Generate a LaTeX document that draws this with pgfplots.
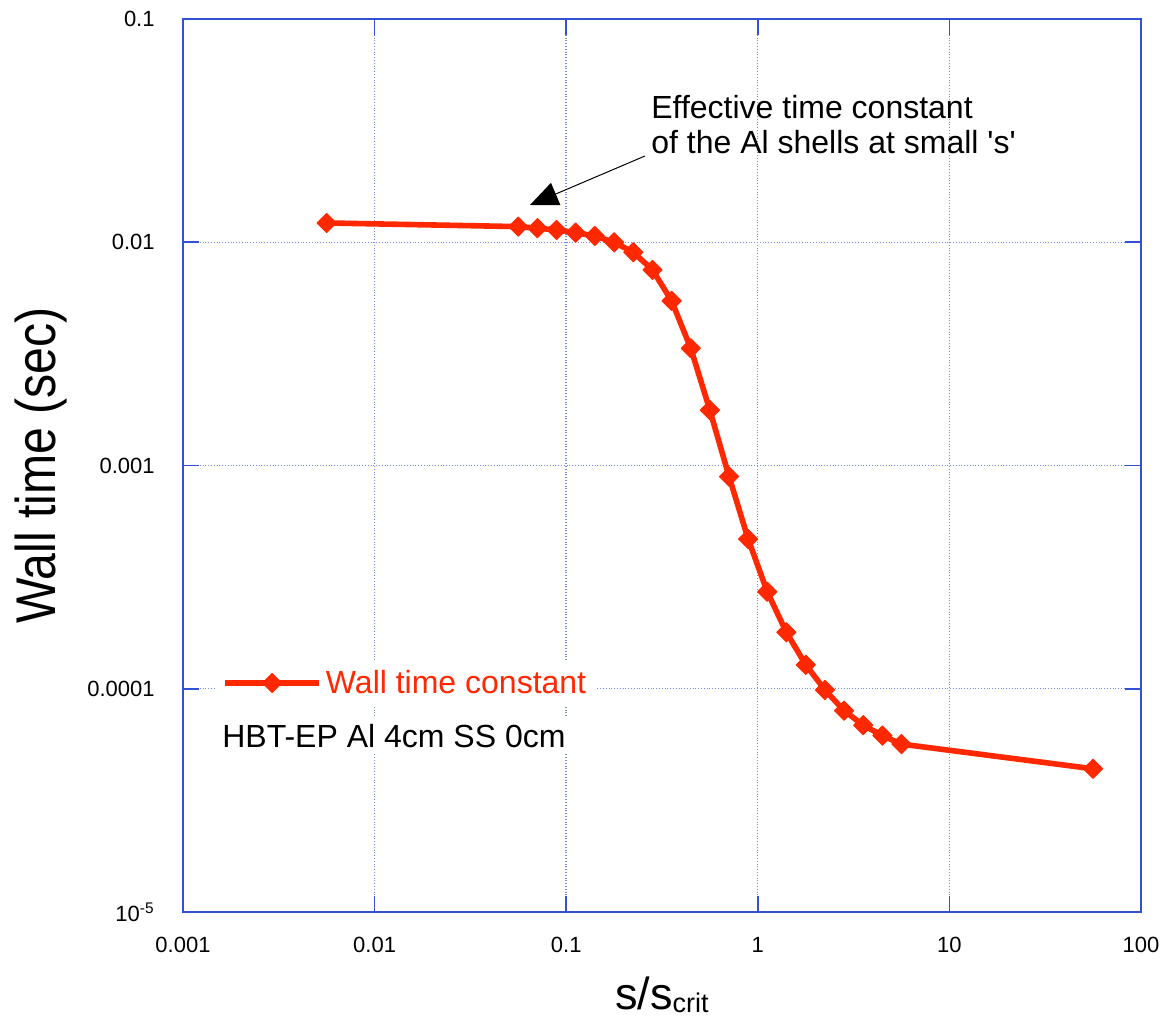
\documentclass[border=0pt]{standalone}
\usepackage{fontspec}
\setmainfont{Liberation Sans}
\usepackage{pgfplots}
\usepackage{pgfplotstable}
\pgfplotsset{compat=1.18}
\usetikzlibrary{arrows.meta}

\definecolor{wallred}{RGB}{255,40,0}
\definecolor{frameblue}{RGB}{50,80,210}
\definecolor{gridblue}{RGB}{115,135,230}

% square diamond (equal width and height)
\pgfdeclareplotmark{sqdiamond}{%
  \pgfpathmoveto{\pgfqpoint{0pt}{\pgfplotmarksize}}%
  \pgfpathlineto{\pgfqpoint{\pgfplotmarksize}{0pt}}%
  \pgfpathlineto{\pgfqpoint{0pt}{-\pgfplotmarksize}}%
  \pgfpathlineto{\pgfqpoint{-\pgfplotmarksize}{0pt}}%
  \pgfpathclose
  \pgfusepathqfillstroke}

% s/s_crit versus wall time constant (sec)
\pgfplotstableread{
s       tau
0.00562 0.0122
0.0562  0.01175
0.0708  0.01156
0.0891  0.01135
0.112   0.01104
0.141   0.01067
0.178   0.00999
0.224   0.00902
0.282   0.00752
0.355   0.00546
0.447   0.00335
0.562   0.00177
0.708   0.000892
0.891   0.000468
1.12    0.000272
1.41    0.000179
1.78    0.000128
2.24    0.0000988
2.82    0.0000798
3.55    0.0000687
4.47    0.0000617
5.62    0.0000565
56.2    0.0000438
}\walldata

\begin{document}
\begin{tikzpicture}
\path[use as bounding box] (0,0) rectangle (584.5pt,510.5pt);
\begin{axis}[
  at={(91.5pt,54.5pt)}, anchor=south west,
  scale only axis, width=479pt, height=446.5pt,
  xmode=log, ymode=log,
  xmin=0.001, xmax=100, ymin=1e-5, ymax=0.1,
  xtick={0.001,0.01,0.1,1,10,100},
  xticklabels={0.001,0.01,0.1,1,10,100},
  ytick={1e-5,1e-4,1e-3,1e-2,1e-1},
  yticklabels={10\textsuperscript{-5},0.0001,0.001,0.01,0.1},
  minor tick style={draw=none},
  tick align=inside,
  major tick length=8pt,
  tick style={frameblue, line width=0.8pt},
  axis line style={frameblue, line width=0.8pt},
  grid=major,
  major grid style={gridblue, densely dotted, line width=0.7pt},
  xticklabel style={font=\fontsize{11}{11}\selectfont, inner sep=0pt, anchor=north, yshift=-12.5pt},
  yticklabel style={font=\fontsize{11}{11}\selectfont, inner sep=0pt, anchor=east, xshift=-14pt},
  every axis x label/.style={at={(axis description cs:0.5,-0.1097)}, anchor=base},
  every axis y label/.style={at={(axis description cs:-0.1482,0.5)}, rotate=90, anchor=center},
  xlabel={\fontsize{22.5}{22.5}\selectfont s/s\raisebox{-1.5pt}{\fontsize{13.5}{13.5}\selectfont crit}},
  ylabel={\scalebox{0.86}[1]{\fontsize{28}{28}\selectfont Wall time (sec)}},
  legend style={at={(axis description cs:0.0344,0.2564)}, anchor=west,
    draw=none, fill=white, inner sep=3pt,
    font=\fontsize{16}{16}\selectfont, text=wallred,
    cells={anchor=west}},
  legend image code/.code={%
    \draw[#1, mark repeat=2, mark phase=2]
      plot coordinates {(0pt,0pt) (23.5pt,0pt) (47pt,0pt)};},
]
\addplot[wallred, line width=2.8pt, line join=round,
  mark=sqdiamond, mark size=4.8pt,
  mark options={solid, fill=wallred, line width=0.5pt}]
  table[x=s, y=tau] {\walldata};
\addlegendentry{Wall time constant}

\node[anchor=west, fill=white, inner sep=3pt, font=\fontsize{16}{16}\selectfont]
  at (axis description cs:0.0344,0.1971) {HBT-EP Al 4cm SS 0cm};

\node[anchor=north west, inner sep=0pt, align=left, font=\fontsize{16}{17.5}\selectfont]
  at (axis description cs:0.4885,0.9149)
  {Effective time constant\\of the Al shells at small \textquotesingle s\textquotesingle};
\draw[-{Triangle[length=14pt,width=12pt]}, line width=0.5pt]
  (axis description cs:0.4823,0.8466) -- (axis description cs:0.3622,0.7917);
\end{axis}
\end{tikzpicture}
\end{document}
